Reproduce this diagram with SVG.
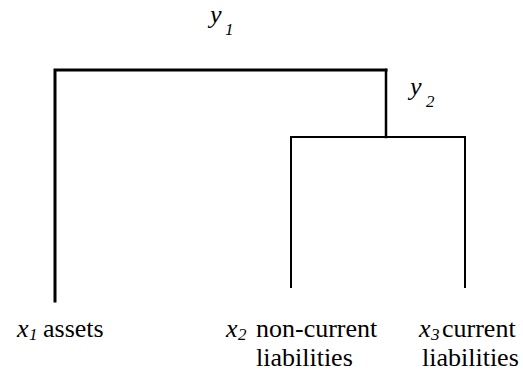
<svg xmlns="http://www.w3.org/2000/svg" width="523" height="374" viewBox="0 0 523 374">
<rect width="523" height="374" fill="#fff"/>
<g id="connectors" fill="none" stroke="#000" stroke-linecap="square">
<polyline points="55,301 55,70 386,70" stroke-width="3"/>
<polyline points="386,70 386,137" stroke-width="2.5"/>
<polyline points="291,287 291,137 465,137 465,287" stroke-width="2"/>
</g>
<g id="y1" font-family="Liberation Serif">
<text x="210" y="23" style="font-family:'Liberation Serif',serif;font-size:26px;font-style:italic">y</text>
<text x="225" y="35" style="font-family:'Liberation Serif',serif;font-size:17px;font-style:italic">1</text>
</g>
<g id="y2" font-family="Liberation Serif">
<text x="410" y="95" style="font-family:'Liberation Serif',serif;font-size:26px;font-style:italic">y</text>
<text x="426" y="107" style="font-family:'Liberation Serif',serif;font-size:17px;font-style:italic">2</text>
</g>
<g id="x1" font-family="Liberation Serif">
<text x="17" y="337" style="font-family:'Liberation Serif',serif;font-size:26px;font-style:italic">x</text>
<text x="29" y="340" style="font-family:'Liberation Serif',serif;font-size:17px;font-style:italic">1</text>
<text x="43" y="337" style="font-family:'Liberation Serif',serif;font-size:26px">assets</text>
</g>
<g id="x2" font-family="Liberation Serif">
<text x="226" y="337" style="font-family:'Liberation Serif',serif;font-size:26px;font-style:italic">x</text>
<text x="238" y="340" style="font-family:'Liberation Serif',serif;font-size:17px;font-style:italic">2</text>
<text x="256" y="337" style="font-family:'Liberation Serif',serif;font-size:26px">non-current</text>
<text x="256" y="366" style="font-family:'Liberation Serif',serif;font-size:26px">liabilities</text>
</g>
<g id="x3" font-family="Liberation Serif">
<text x="419" y="337" style="font-family:'Liberation Serif',serif;font-size:26px;font-style:italic">x</text>
<text x="431" y="340" style="font-family:'Liberation Serif',serif;font-size:17px;font-style:italic">3</text>
<text x="442" y="337" style="font-family:'Liberation Serif',serif;font-size:26px">current</text>
<text x="422" y="366" style="font-family:'Liberation Serif',serif;font-size:26px">liabilities</text>
</g>
</svg>
